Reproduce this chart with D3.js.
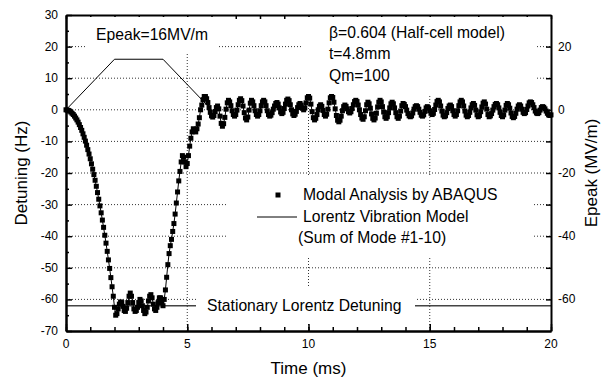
<!DOCTYPE html>
<html>
<head>
<meta charset="utf-8">
<script src="https://cdn.jsdelivr.net/npm/d3@7"></script>
<style>
  body { margin: 0; background: #fff; }
  text { font-family: "Liberation Sans", Arial, sans-serif; fill: #000; }
</style>
</head>
<body>
<div id="chart"></div>
<script>
"use strict";

// time step of the detuning samples (ms)
var timeStep = 0.05;

// detuning (Hz), one value every timeStep from 0 to 20 ms
var detuning = [
  0, -0.1, -0.2, -0.4, -0.7, -1.1, -1.5, -2.0, -2.6, -3.2, -3.9, -4.7, -5.6, -6.5, -7.6, -8.7, -9.9, -11.2, -12.6, -14.0,
  -15.5, -17.1, -18.8, -20.5, -22.3, -24.2, -26.2, -28.3, -30.4, -32.6, -34.9, -37.2, -39.7, -42.2, -44.8, -47.5, -50.2, -53.1, -56.0, -59.0,
  -62.5, -65.0, -64.5, -63.0, -61.5, -60.8, -61.0, -62.2, -63.5, -63.8, -62.8, -61.0, -59.0, -58.0, -59.0, -61.0, -63.0, -63.8, -63.5, -62.5,
  -61.0, -60.0, -60.5, -62.0, -63.5, -64.5, -64.0, -62.5, -60.5, -59.0, -58.5, -59.5, -61.5, -63.0, -63.5, -62.5, -61.0, -59.5, -59.5, -61.0,
  -62.0, -60.0, -57.0, -53.0, -49.0, -45.5, -43.0, -41.0, -38.5, -36.0, -33.0, -29.5, -26.0, -22.5, -19.5, -16.5, -14.5, -15.0, -16.5, -18.0,
  -17.0, -14.5, -11.5, -9.0, -7.0, -6.0, -6.5, -7.0, -6.0, -4.5, -2.5, 0.0, 1.5, 3.2, 4.2, 4.2, 3.5, 2.3, 0.7, -0.8,
  -1.9, -2.3, -1.8, -0.55, 0.7, 1.2, 0.3, -2.0, -4.3, -5.2, -4.4, -2.4, 0.2, 2.2, 3.0, 2.5, 1.3, -0.3, -1.5, -2.0,
  -1.5, -0.1, 1.6, 3.0, 3.5, 2.9, 1.2, -0.9, -2.6, -3.2, -2.3, -0.1, 2.1, 3.0, 2.5, 1.3, -0.3, -1.5, -2.0, -1.5,
  -0.3, 1.3, 2.5, 3.0, 2.5, 1.3, -0.3, -1.5, -2.0, -1.7, -0.9, 0.2, 1.2, 2.0, 2.3, 1.8, 0.6, -0.7, -1.2, -0.8,
  0.4, 1.8, 3.0, 3.4, 2.9, 1.6, 0.0, -1.3, -1.8, -1.4, -0.5, 0.7, 1.6, 2.0, 1.5, 0.5, 0.0, 0.6, 2.2, 3.8,
  4.4, 3.7, 1.8, -0.6, -2.5, -3.2, -2.7, -1.5, 0.0, 1.1, 1.6, 1.1, -0.2, -1.5, -2.0, -1.4, 0.2, 2.2, 3.8, 4.4,
  3.9, 2.4, 0.3, -1.8, -3.3, -3.8, -3.3, -2.0, -0.3, 1.0, 1.5, 1.1, 0.3, -0.6, -1.0, -0.6, 0.4, 1.6, 2.6, 3.0,
  2.6, 1.5, 0.0, -1.5, -2.6, -3.0, -2.2, -0.3, 1.6, 2.4, 1.9, 0.5, -1.3, -2.7, -3.2, -2.6, -1.1, 0.9, 2.4, 3.0,
  2.5, 1.0, -0.7, -2.2, -2.7, -2.2, -0.9, 0.6, 1.9, 2.4, 1.9, 0.6, -0.9, -2.2, -2.7, -2.0, -0.4, 1.3, 2.0, 1.7,
  1.0, -0.1, -1.2, -1.9, -2.2, -1.9, -1.0, 0.2, 1.0, 1.3, 1.0, 0.2, -0.8, -1.7, -2.0, -1.6, -0.5, 0.6, 1.0, 0.6,
  -0.3, -1.1, -1.5, -1.1, 0.1, 1.5, 2.6, 3.0, 2.5, 1.2, -0.4, -1.7, -2.2, -1.9, -0.9, 0.4, 1.2, 1.5, 1.0, -0.3,
  -1.5, -2.0, -1.5, -0.3, 1.3, 2.5, 3.0, 2.5, 1.2, -0.4, -1.7, -2.2, -1.8, -0.8, 0.6, 1.6, 2.0, 1.4, -0.1, -1.6,
  -2.2, -1.8, -0.6, 0.9, 2.1, 2.5, 1.8, 0.2, -1.5, -2.2, -1.9, -1.2, -0.1, 1.0, 1.7, 2.0, 1.6, 0.6, -0.8, -1.8,
  -2.2, -1.6, -0.1, 1.4, 2.0, 1.6, 0.5, -1.0, -2.1, -2.5, -2.1, -1.1, 0.2, 1.2, 1.6, 1.2, 0.2, -0.8, -1.2, -0.9,
  0.1, 1.2, 2.2, 2.5, 2.3, 1.6, 0.7, -0.4, -1.0, -1.2, -0.9, -0.1, 0.7, 1.0, 0.8, 0.3, -0.4, -1.1, -1.6, -1.8,
  -1.6
];

// accelerating field pulse (right axis)
var epeakTime = [0, 2, 4, 6];
var epeakValue = [0, 16, 16, 0];

var stationaryDetuning = -62;

var xTicks = [0, 5, 10, 15, 20];
var yTicks = [-70, -60, -50, -40, -30, -20, -10, 0, 10, 20, 30];
var rightTicks = [-60, -40, -20, 0, 20];

var width = 608, height = 380;
var margin = { top: 15, right: 57, bottom: 49, left: 66 };
var w = width - margin.left - margin.right,
    h = height - margin.top - margin.bottom;

var x = d3.scaleLinear().domain([0, 20]).range([0, w]);
var y = d3.scaleLinear().domain([-70, 30]).range([h, 0]);
var y2 = d3.scaleLinear().domain([-70, 30]).range([h, 0]);

var svg = d3.select("#chart")
  .append("svg")
    .attr("width", width)
    .attr("height", height)
    .style("background", "#fff");

var g = svg.append("g")
  .attr("transform", "translate(" + margin.left + "," + margin.top + ")");

// dotted grid
var grid = g.append("g").attr("class", "grid");
grid.selectAll("line.h").data(yTicks.slice(1, -1))
  .join("line")
    .attr("class", "h")
    .attr("x1", 0).attr("x2", w)
    .attr("y1", d => y(d)).attr("y2", d => y(d));
grid.selectAll("line.v").data(xTicks.slice(1, -1))
  .join("line")
    .attr("class", "v")
    .attr("x1", d => x(d)).attr("x2", d => x(d))
    .attr("y1", 0).attr("y2", h);
grid.selectAll("line")
  .attr("stroke", "#333")
  .attr("stroke-width", 1)
  .attr("stroke-dasharray", "1,2");

// stationary Lorentz detuning level
g.append("line")
  .attr("x1", 0).attr("x2", w)
  .attr("y1", y(stationaryDetuning)).attr("y2", y(stationaryDetuning))
  .attr("stroke", "#444")
  .attr("stroke-width", 1.5);

// white label backgrounds (they hide the grid like in the original)
function labelBox(x0, y0, x1, y1) {
  svg.append("rect")
    .attr("x", x0).attr("y", y0)
    .attr("width", x1 - x0).attr("height", y1 - y0)
    .attr("fill", "#fff");
}
labelBox(86, 17, 218, 52);
labelBox(302, 17, 537, 94);
labelBox(228, 176, 534, 257);
labelBox(196, 288, 415, 323);

// Epeak pulse
var epeakLine = d3.line()
  .x((d, i) => x(epeakTime[i]))
  .y(d => y2(d));
g.append("path")
  .datum(epeakValue)
  .attr("d", epeakLine)
  .attr("fill", "none")
  .attr("stroke", "#000")
  .attr("stroke-width", 1);

// Lorentz vibration model line + modal analysis points
var detLine = d3.line()
  .x((d, i) => x(i * timeStep))
  .y(d => y(d));
g.append("path")
  .datum(detuning)
  .attr("d", detLine)
  .attr("fill", "none")
  .attr("stroke", "#000")
  .attr("stroke-width", 1);

var sq = 5;
g.append("g").selectAll("rect").data(detuning)
  .join("rect")
    .attr("x", (d, i) => x(i * timeStep) - sq / 2)
    .attr("y", d => y(d) - sq / 2)
    .attr("width", sq)
    .attr("height", sq)
    .attr("fill", "#000");

// axes
var bottomAxis = d3.axisBottom(x).tickValues(xTicks).tickSizeInner(-7).tickSizeOuter(0).tickFormat("");
var bottomMinor = d3.axisBottom(x).tickValues(d3.range(0, 21)).tickSizeInner(-4).tickSizeOuter(0).tickFormat("");
var topMinor = d3.axisTop(x).tickValues(d3.range(0, 21)).tickSizeInner(-4).tickSizeOuter(0).tickFormat("");
var leftAxis = d3.axisLeft(y).tickValues(yTicks).tickSizeInner(-6).tickSizeOuter(0).tickFormat("");
var leftMinor = d3.axisLeft(y).tickValues(d3.range(-65, 30, 10)).tickSizeInner(-3).tickSizeOuter(0).tickFormat("");
var rightAxis = d3.axisRight(y2).tickValues(d3.range(-60, 30, 10)).tickSizeInner(-5).tickSizeOuter(0).tickFormat("");

g.append("g").attr("transform", "translate(0," + h + ")").call(bottomMinor);
g.append("g").attr("transform", "translate(0," + h + ")").call(bottomAxis);
g.append("g").call(topMinor);
g.append("g").call(leftMinor);
g.append("g").call(leftAxis);
g.append("g").attr("transform", "translate(" + w + ",0)").call(rightAxis);

g.selectAll(".domain").attr("stroke", "#000").attr("stroke-width", 2);
g.selectAll(".tick line").attr("stroke", "#000").attr("stroke-width", 1.5);

// tick labels
g.append("g").selectAll("text").data(xTicks)
  .join("text")
    .attr("x", d => x(d))
    .attr("y", h + 17)
    .attr("text-anchor", "middle")
    .style("font-size", "12px")
    .text(d => d);

g.append("g").selectAll("text").data(yTicks)
  .join("text")
    .attr("x", -8)
    .attr("y", d => y(d) + 4)
    .attr("text-anchor", "end")
    .style("font-size", "12px")
    .text(d => d);

g.append("g").selectAll("text").data(rightTicks)
  .join("text")
    .attr("x", w + 7)
    .attr("y", d => y2(d) + 4)
    .attr("text-anchor", "start")
    .style("font-size", "12px")
    .text(d => d);

// axis titles
svg.append("text")
  .attr("x", margin.left + w / 2)
  .attr("y", 374)
  .attr("text-anchor", "middle")
  .style("font-size", "17px")
  .text("Time (ms)");

svg.append("text")
  .attr("transform", "translate(27," + (margin.top + h / 2) + ") rotate(-90)")
  .attr("text-anchor", "middle")
  .style("font-size", "17px")
  .text("Detuning (Hz)");

svg.append("text")
  .attr("transform", "translate(597," + (margin.top + h / 2) + ") rotate(-90)")
  .attr("text-anchor", "middle")
  .style("font-size", "17px")
  .text("Epeak (MV/m)");

// annotations
function note(tx, ty, str) {
  svg.append("text")
    .attr("x", tx).attr("y", ty)
    .style("font-size", "15.7px")
    .text(str);
}
note(96, 40, "Epeak=16MV/m");
note(329, 38, "\u03b2=0.604 (Half-cell model)");
note(329, 59, "t=4.8mm");
note(329, 81, "Qm=100");
note(303, 200, "Modal Analysis by ABAQUS");
note(303, 222, "Lorentz Vibration Model");
note(298, 243, "(Sum of Mode #1-10)");
note(207, 311, "Stationary Lorentz Detuning");

// legend symbols
svg.append("rect")
  .attr("x", 275.5).attr("y", 192.5)
  .attr("width", 5).attr("height", 5)
  .attr("fill", "#000");
svg.append("line")
  .attr("x1", 257).attr("x2", 297)
  .attr("y1", 217).attr("y2", 217)
  .attr("stroke", "#000")
  .attr("stroke-width", 1);
</script>
</body>
</html>
